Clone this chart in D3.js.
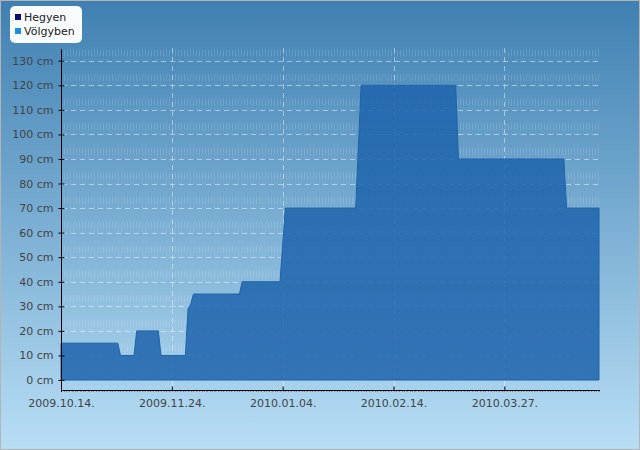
<!DOCTYPE html>
<html>
<head>
<meta charset="utf-8">
<script src="https://cdn.jsdelivr.net/npm/d3@7"></script>
<style>
  html, body { margin: 0; padding: 0; background: #fff; }
  svg { display: block; font-family: "DejaVu Sans", sans-serif; }
</style>
</head>
<body>
<div id="container"></div>
<script>
const width = 640, height = 450;

// snow depth, change points only (daily data, flat between)
const dates = ["2009-10-14", "2009-11-04", "2009-11-05", "2009-11-10", "2009-11-11",
  "2009-11-19", "2009-11-20", "2009-11-29", "2009-11-30", "2009-12-01", "2009-12-02",
  "2009-12-19", "2009-12-20", "2010-01-03", "2010-01-04", "2010-01-05", "2010-01-31",
  "2010-02-01", "2010-02-02", "2010-03-09", "2010-03-10", "2010-04-18", "2010-04-19",
  "2010-05-01"];
const values = [15, 15, 10, 10, 20, 20, 10, 10, 29, 31, 35, 35, 40, 40, 55, 70, 70,
  95, 120, 120, 90, 90, 70, 70];

const seriesNames = ["Hegyen", "Völgyben"];
const seriesColors = ["#0c0c6e", "#1e90e0"];

const xTicks = ["2009-10-14", "2009-11-24", "2010-01-04", "2010-02-14", "2010-03-27"];
const yTicks = [0, 10, 20, 30, 40, 50, 60, 70, 80, 90, 100, 110, 120, 130];

const parse = d3.timeParse("%Y-%m-%d");
const data = dates.map((d, i) => ({date: parse(d), value: values[i]}));

const x = d3.scaleTime()
    .domain([parse("2009-10-14"), parse("2010-05-01")])
    .range([61, 599]);
const y = d3.scaleLinear()
    .domain([-4.07, 134.36])
    .range([390, 50]);

const svg = d3.select("#container").append("svg")
    .attr("width", width)
    .attr("height", height);

const defs = svg.append("defs");
const grad = defs.append("linearGradient")
    .attr("id", "bg").attr("x1", 0).attr("y1", 0).attr("x2", 0).attr("y2", 1);
grad.append("stop").attr("offset", "0%").attr("stop-color", "#3f80b2");
grad.append("stop").attr("offset", "100%").attr("stop-color", "#b8def5");

// little vertical stripes texture of the plot area
const pat = defs.append("pattern")
    .attr("id", "stripes")
    .attr("patternUnits", "userSpaceOnUse")
    .attr("x", 0).attr("y", 0.5)
    .attr("width", 3).attr("height", 24.56);
pat.append("rect").attr("x", 1).attr("y", 0).attr("width", 1).attr("height", 7)
    .attr("fill", "#fff").attr("fill-opacity", 0.14);
pat.append("rect").attr("x", 1).attr("y", 9).attr("width", 1).attr("height", 3)
    .attr("fill", "#fff").attr("fill-opacity", 0.08);

svg.append("rect")
    .attr("x", 0.5).attr("y", 0.5)
    .attr("width", width - 1).attr("height", height - 1)
    .attr("fill", "url(#bg)")
    .attr("stroke", "#b4b4b4");

svg.append("rect")
    .attr("x", 62).attr("y", 48)
    .attr("width", 538).attr("height", 342)
    .attr("fill", "url(#stripes)");

// grid
const grid = svg.append("g")
    .attr("stroke", "#fff")
    .attr("stroke-opacity", 0.45)
    .attr("stroke-dasharray", "5,4");

grid.selectAll("line.h")
    .data(yTicks.filter(d => d > 0))
    .enter().append("line")
    .attr("class", "h")
    .attr("x1", 62).attr("x2", 600)
    .attr("y1", d => Math.round(y(d)) + 0.5)
    .attr("y2", d => Math.round(y(d)) + 0.5);

grid.selectAll("line.v")
    .data(xTicks.slice(1).map(parse))
    .enter().append("line")
    .attr("class", "v")
    .attr("x1", d => Math.round(x(d)) + 0.5)
    .attr("x2", d => Math.round(x(d)) + 0.5)
    .attr("y1", 48).attr("y2", 390);

// the area
const area = d3.area()
    .x(d => x(d.date))
    .y0(y(0))
    .y1(d => y(d.value));

svg.append("path")
    .datum(data)
    .attr("d", area)
    .attr("fill", "#1e64ac")
    .attr("fill-opacity", 0.86)
    .attr("stroke", "#1f62a8")
    .attr("stroke-width", 1);

// axes
const yAxis = d3.axisLeft(y)
    .tickValues(yTicks)
    .tickSize(3)
    .tickPadding(5)
    .tickFormat(d => d + " cm");

const gy = svg.append("g")
    .attr("transform", "translate(61.5,0)")
    .call(yAxis);
gy.select(".domain").attr("d", "M0,49V392").attr("stroke", "#000");
gy.selectAll(".tick line").attr("x1", 3).attr("x2", -3).attr("stroke", "#000");
gy.selectAll(".tick text")
    .attr("fill", "#444")
    .attr("font-size", 11)
    .attr("font-family", "DejaVu Sans, sans-serif")
    .attr("x", -8);

// daily minor ticks
svg.append("g")
    .attr("stroke", "#000")
    .attr("stroke-opacity", 0.35)
    .selectAll("line")
    .data(d3.timeDay.range(parse("2009-10-14"), parse("2010-05-02")))
    .enter().append("line")
    .attr("x1", d => Math.round(x(d)) + 0.5)
    .attr("x2", d => Math.round(x(d)) + 0.5)
    .attr("y1", 390).attr("y2", 392);

const fmt = d3.timeFormat("%Y.%m.%d.");
const xAxis = d3.axisBottom(x)
    .tickValues(xTicks.map(parse))
    .tickSize(0)
    .tickPadding(9)
    .tickFormat(fmt);

const gx = svg.append("g")
    .attr("transform", "translate(0,390.5)")
    .call(xAxis);
gx.select(".domain").attr("d", "M61,0H600").attr("stroke", "#000");
gx.selectAll(".tick line").attr("y1", -4).attr("y2", 0).attr("stroke", "#000");
gx.selectAll(".tick text")
    .attr("fill", "#444")
    .attr("font-size", 11)
    .attr("font-family", "DejaVu Sans, sans-serif");

// legend
const legend = svg.append("g");
legend.append("rect")
    .attr("x", 10).attr("y", 6)
    .attr("width", 72).attr("height", 37)
    .attr("rx", 5)
    .attr("fill", "#f8fcff");

const items = legend.selectAll("g.item")
    .data(seriesNames)
    .enter().append("g")
    .attr("class", "item")
    .attr("transform", (d, i) => `translate(15,${14 + i * 14})`);
items.append("rect")
    .attr("width", 6).attr("height", 6)
    .attr("fill", (d, i) => seriesColors[i]);
items.append("text")
    .attr("x", 9).attr("y", 3)
    .attr("dy", "0.35em")
    .attr("font-size", 11)
    .attr("fill", "#222")
    .text(d => d);
</script>
</body>
</html>
